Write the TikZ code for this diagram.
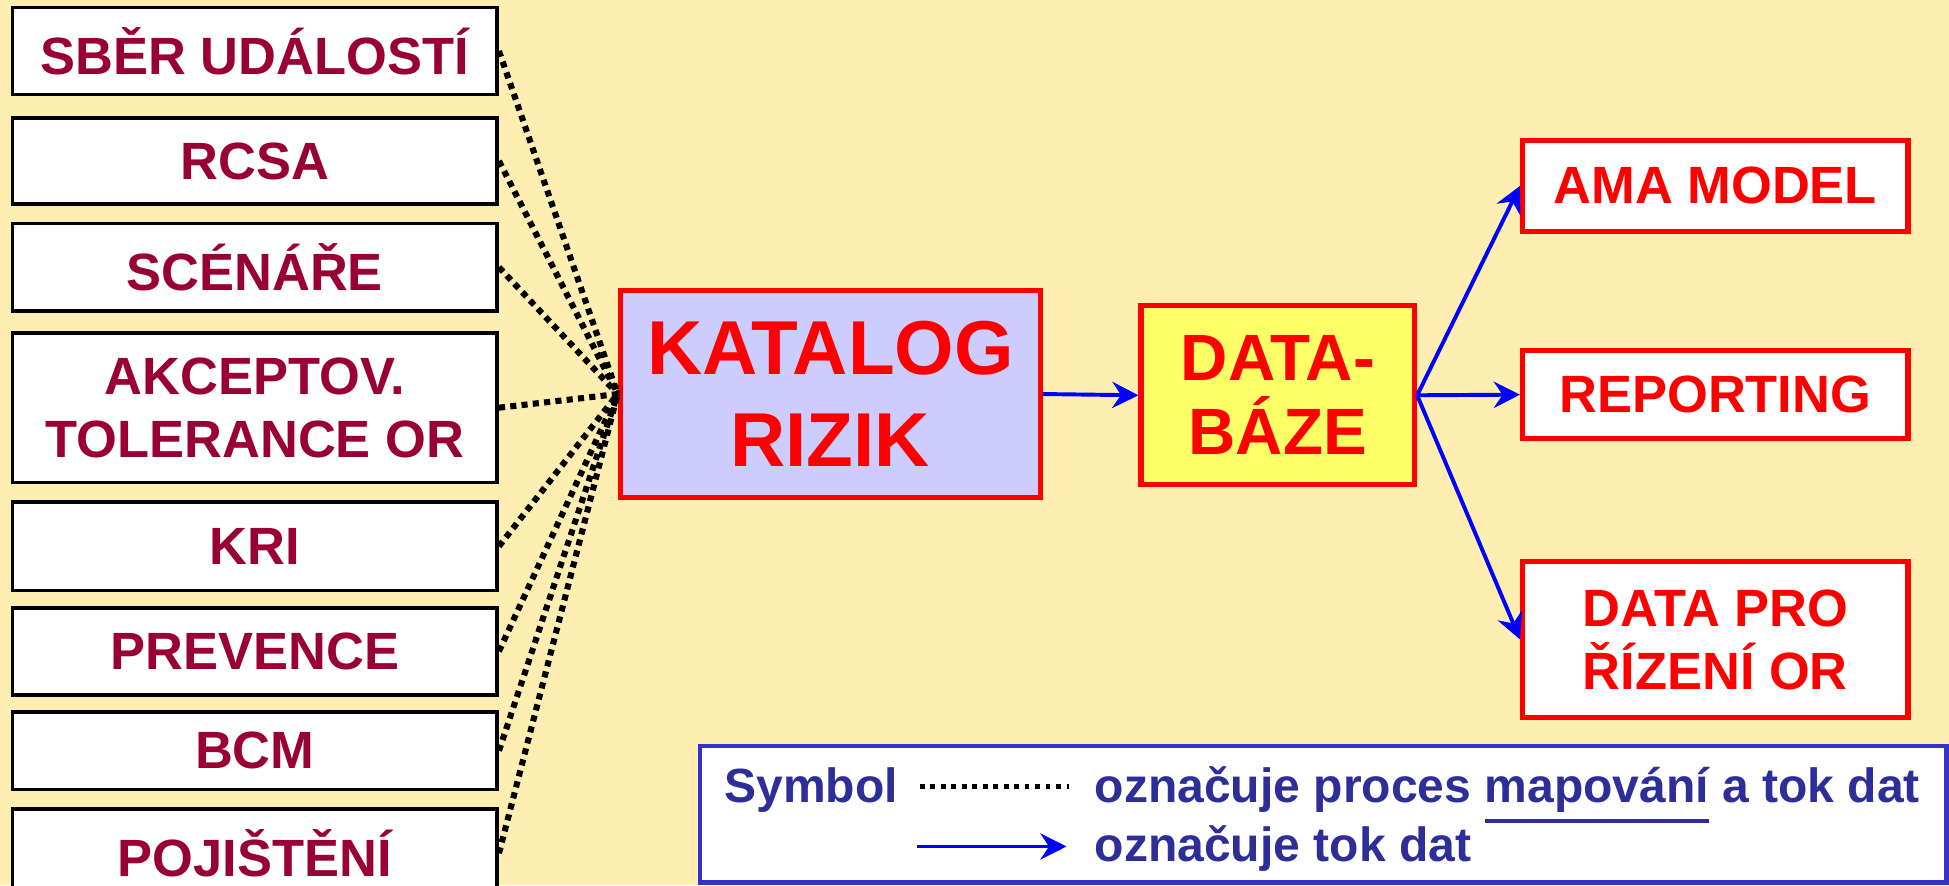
\documentclass[tikz,border=0pt]{standalone}
\usepackage{fontspec}
\setmainfont{Liberation Sans}
\usetikzlibrary{arrows.meta}
\definecolor{bgyellow}{RGB}{255,238,178}
\definecolor{darkred}{RGB}{153,0,51}
\definecolor{lavender}{RGB}{204,204,255}
\definecolor{dbyellow}{RGB}{255,255,102}
\definecolor{legendblue}{RGB}{51,51,204}
\definecolor{legendtext}{RGB}{46,46,153}
\newcommand{\thickul}[1]{\leavevmode\vtop{\hbox{#1}\kern1.3pt\hrule height 1pt}}

\begin{document}
\begin{tikzpicture}[
  srcbox/.style={draw=black,line width=0.8pt,fill=white,minimum width=3.9cm,inner sep=0pt,align=center,text=darkred,font=\bfseries\fontsize{12}{14.4}\selectfont},
  redbox/.style={draw=red,line width=1.2pt,inner sep=0pt,align=center,text=red},
  mapline/.style={line width=1.4pt,dash pattern=on 1.4pt off 1.2pt},
  flow/.style={blue,line width=0.9pt,-{Stealth[length=6pt,width=6pt,inset=2pt]}},
  legendtxt/.style={anchor=base west,inner sep=0pt,text=legendtext,font=\bfseries\fontsize{11}{13}\selectfont}
]
\fill[bgyellow] (0,0) rectangle (15.68,7.12);
\useasboundingbox (0,0) rectangle (15.68,7.12);

\node[srcbox,minimum height=0.70cm] (sber) at (2.05,6.71) {SBĚR UDÁLOSTÍ};
\node[srcbox,minimum height=0.69cm] (rcsa) at (2.05,5.825) {RCSA};
\node[srcbox,minimum height=0.70cm] (scen) at (2.05,4.97) {SCÉNÁŘE};
\node[srcbox,minimum height=1.20cm] (akc) at (2.05,3.84) {AKCEPTOV.\\TOLERANCE OR};
\node[srcbox,minimum height=0.71cm] (kri) at (2.05,2.725) {KRI};
\node[srcbox,minimum height=0.70cm] (prev) at (2.05,1.88) {PREVENCE};
\node[srcbox,minimum height=0.62cm] (bcm) at (2.05,1.08) {BCM};
\node[srcbox,minimum height=0.71cm] (poj) at (2.05,0.255) {POJIŠTĚNÍ};

\node[redbox,fill=lavender,minimum width=3.38cm,minimum height=1.66cm,font=\bfseries\fontsize{17.5}{21}\selectfont] (kat) at (6.68,3.95) {KATALOG\\RIZIK};
\node[redbox,fill=dbyellow,minimum width=2.20cm,minimum height=1.44cm,font=\bfseries\fontsize{15}{17}\selectfont] (db) at (10.28,3.94) {DATA-\\BÁZE};

\node[redbox,fill=white,minimum width=3.10cm,minimum height=0.73cm,font=\bfseries\fontsize{12}{14.4}\selectfont] (ama) at (13.80,5.625) {AMA MODEL};
\node[redbox,fill=white,minimum width=3.10cm,minimum height=0.71cm,font=\bfseries\fontsize{12}{14.4}\selectfont] (rep) at (13.80,3.945) {REPORTING};
\node[redbox,fill=white,minimum width=3.10cm,minimum height=1.25cm,font=\bfseries\fontsize{12}{14.4}\selectfont] (dpr) at (13.80,1.975) {DATA PRO\\ŘÍZENÍ OR};

\foreach \src in {sber,rcsa,scen,akc,kri,prev,bcm,poj}
  \draw[mapline] (\src.east) -- (kat.west);

\draw[flow] (kat.east) -- (db.west);
\draw[flow] (db.east) -- (ama.west);
\draw[flow] (db.east) -- (rep.west);
\draw[flow] (db.east) -- (dpr.west);

\node[draw=legendblue,line width=1pt,fill=white,minimum width=10.03cm,minimum height=1.10cm,inner sep=0pt] (legend) at (10.645,0.57) {};
\node[legendtxt] (sym) at (5.82,0.66) {Symbol};
\node[legendtxt] (maptxt) at (8.80,0.66) {označuje proces \thickul{mapování} a tok dat};
\node[legendtxt] (flowtxt) at (8.80,0.19) {označuje tok dat};
\coordinate (dotA) at (7.40,0.79);
\coordinate (dotB) at (8.60,0.79);
\coordinate (arrA) at (7.38,0.31);
\coordinate (arrB) at (8.58,0.31);
\draw[mapline,line width=1.1pt,dash pattern=on 1.1pt off 1.3pt] (dotA) -- (dotB);
\draw[flow] (arrA) -- (arrB);
\end{tikzpicture}
\end{document}
